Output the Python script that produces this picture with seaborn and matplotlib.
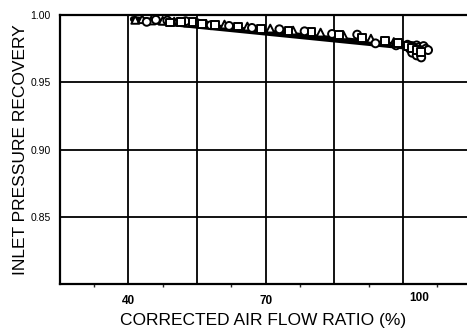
import numpy as np
import pandas as pd
import matplotlib
matplotlib.use("Agg")
import matplotlib.pyplot as plt
import matplotlib.transforms as mtransforms
import seaborn as sns

# data
tri_x = [41.5, 43, 45, 47.5, 50, 53, 57, 61, 66, 71, 76, 82, 87, 93, 98]
tri_y = [0.9965, 0.997, 0.9960, 0.9958, 0.9952, 0.9945, 0.9935, 0.9930, 0.9915, 0.9900, 0.9885, 0.9870, 0.9850, 0.9825, 0.9800]
cir_x = [44, 46, 48.5, 51, 52.5, 55, 58, 62, 67, 73, 78.5, 84.5, 90, 94, 98.5,
         101, 101.5, 102, 102.5, 103, 103.5, 104, 104.5, 105, 102, 103, 104, 105.5]
cir_y = [0.9950, 0.9965, 0.9960, 0.9950, 0.9955, 0.9940, 0.9925, 0.9920, 0.9905, 0.9895, 0.9880, 0.9860, 0.9855, 0.9790, 0.9775,
         0.9780, 0.9750, 0.9770, 0.9745, 0.9775, 0.9760, 0.9740, 0.9770, 0.9750, 0.9720, 0.9700, 0.9685, 0.9740]
sq_x = [49, 51.5, 54, 56, 59, 64, 69, 75, 80, 86, 91, 96, 99, 101, 102, 103, 104]
sq_y = [0.9945, 0.9950, 0.9950, 0.9935, 0.9925, 0.9915, 0.9900, 0.9885, 0.9875, 0.9850, 0.9830, 0.9805, 0.9790, 0.9770, 0.9755, 0.9740, 0.9725]
fit_x = [41, 104]
fit_y = [0.9970, 0.9755]

df = pd.concat([
    pd.DataFrame({"x": tri_x, "y": tri_y, "kind": "tri"}),
    pd.DataFrame({"x": cir_x, "y": cir_y, "kind": "cir"}),
    pd.DataFrame({"x": sq_x, "y": sq_y, "kind": "sq"}),
])

sns.set_style("white")
plt.rcParams['font.family'] = ['Liberation Sans', 'DejaVu Sans']
plt.rcParams['text.color'] = 'black'
plt.rcParams['axes.labelcolor'] = 'black'

fig = plt.figure(figsize=(4.67, 3.29), dpi=100)
ax = fig.add_axes([0.128, 0.137, 0.872, 0.817])

sns.lineplot(x=fit_x, y=fit_y, ax=ax, color='black', linewidth=4.5)
sns.scatterplot(data=df, x="x", y="y", style="kind",
                markers={"tri": "^", "cir": "o", "sq": "s"},
                ax=ax, s=32, facecolor='white', edgecolor='black',
                linewidth=1.4, legend=False, zorder=3)

ax.set_xlim(25, 114)
ax.set_ylim(0.80, 1.00)
ax.set_xticks([40, 55, 70, 85, 100])
ax.set_xticklabels(["40", "", "70", "", "100"])
ax.set_xticks(np.arange(32.5, 114, 15), minor=True)
ax.set_yticks([0.85, 0.90, 0.95, 1.00])
ax.set_yticklabels(["0.85", "0.90", "0.95", "1.00"])
ax.grid(True, which='major', color='black', linewidth=1.3)
ax.set_axisbelow(True)

for s in ['left', 'bottom', 'top']:
    ax.spines[s].set_color('black')
    ax.spines[s].set_linewidth(1.6)
ax.spines['right'].set_visible(False)

ax.tick_params(axis='both', which='major', direction='out', length=3,
               width=1, colors='black')
ax.tick_params(axis='y', labelsize=7.5)
ax.tick_params(axis='x', labelsize=8.5, pad=5)
ax.tick_params(axis='x', which='minor', direction='out', length=2, width=1,
               bottom=True)
for lab in ax.get_xticklabels():
    lab.set_fontweight('bold')
# the 100 label sits a little right of its grid line
lab100 = ax.get_xticklabels()[4]
lab100.set_transform(lab100.get_transform() +
                     mtransforms.ScaledTranslation(0.16, 0.03, fig.dpi_scale_trans))

ax.set_xlabel("CORRECTED AIR FLOW RATIO (%)", fontsize=12.5, labelpad=4)
ax.set_ylabel("INLET PRESSURE RECOVERY", fontsize=12.5, labelpad=2)

fig.savefig("out.png", dpi=100)
